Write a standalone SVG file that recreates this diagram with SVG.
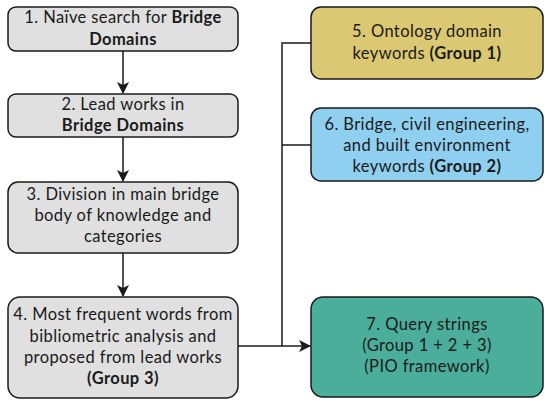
<svg xmlns="http://www.w3.org/2000/svg" width="550" height="405" viewBox="0 0 550 405">
<defs>
<style>
.box{stroke:#1a1a1a;stroke-width:1.5}
.g{fill:#e0e0e0}
.y{fill:#dbc872}
.b{fill:#8fd0f0}
.t{fill:#4aae9b}
text{font-family:Lato,"Noto Sans",sans-serif;font-size:16.5px;fill:#1a1a1a;text-anchor:middle;letter-spacing:0.4px}
.bd{font-weight:bold}
.c{stroke:#1a1a1a;stroke-width:1.5;fill:none}
</style>
<marker id="ah" viewBox="0 0 12 12" refX="11" refY="6" markerWidth="12" markerHeight="12" markerUnits="userSpaceOnUse" orient="auto">
<path d="M0,0 L12,6 L0,12 L3,6 Z" fill="#1a1a1a"/>
</marker>
</defs>
<rect width="550" height="405" fill="#ffffff"/>
<g id="connectors">
<line class="c" x1="123" y1="51" x2="123" y2="93" marker-end="url(#ah)"/>
<line class="c" x1="123" y1="137" x2="123" y2="181" marker-end="url(#ah)"/>
<line class="c" x1="123" y1="253" x2="123" y2="296" marker-end="url(#ah)"/>
<path class="c" d="M311,43 H282 V346"/>
<line class="c" x1="282" y1="145" x2="311" y2="145"/>
<line class="c" x1="238" y1="346" x2="310" y2="346" marker-end="url(#ah)"/>
</g>
<g id="node1">
<rect class="box g" x="8" y="7" width="230" height="44" rx="8"/>
<text x="123" y="23">1. Naïve search for <tspan class="bd">Bridge</tspan></text>
<text x="123" y="45" class="bd">Domains</text>
</g>
<g id="node2">
<rect class="box g" x="8" y="94" width="230" height="43" rx="8"/>
<text x="123" y="110">2. Lead works in</text>
<text x="123" y="131" class="bd">Bridge Domains</text>
</g>
<g id="node3">
<rect class="box g" x="8" y="182" width="230" height="71" rx="10"/>
<text x="123" y="200">3. Division in main bridge</text>
<text x="123" y="221">body of knowledge and</text>
<text x="123" y="242">categories</text>
</g>
<g id="node4">
<rect class="box g" x="8" y="297" width="230" height="101" rx="12"/>
<text x="123" y="320">4. Most frequent words from</text>
<text x="123" y="342">bibliometric analysis and</text>
<text x="123" y="363">proposed from lead works</text>
<text x="123" y="384" class="bd">(Group 3)</text>
</g>
<g id="node5">
<rect class="box y" x="311" y="7" width="232" height="72" rx="10"/>
<text x="427" y="37">5. Ontology domain</text>
<text x="427" y="59">keywords <tspan class="bd">(Group 1)</tspan></text>
</g>
<g id="node6">
<rect class="box b" x="311" y="108" width="232" height="73" rx="10"/>
<text x="427" y="130">6. Bridge, civil engineering,</text>
<text x="427" y="151">and built environment</text>
<text x="427" y="172">keywords <tspan class="bd">(Group 2)</tspan></text>
</g>
<g id="node7">
<rect class="box t" x="311" y="297" width="232" height="100" rx="12"/>
<text x="427" y="330">7. Query strings</text>
<text x="427" y="351">(Group 1 + 2 + 3)</text>
<text x="427" y="372">(PIO framework)</text>
</g>
</svg>
